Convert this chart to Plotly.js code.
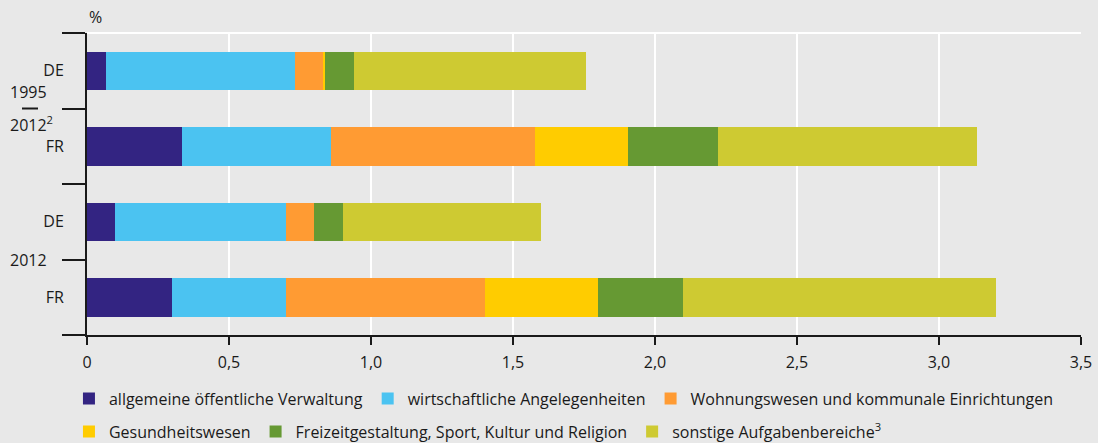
<!DOCTYPE html>
<html>
<head>
<meta charset="utf-8">
<script src="https://cdn.plot.ly/plotly-3.0.1.min.js"></script>
<style>html,body{margin:0;padding:0;background:#e8e8e8;}#chart{width:1098px;height:443px;}</style>
</head>
<body>
<div id="chart"></div>
<script>
// categories (top to bottom)
const categories = ["DE 1995–2012", "FR 1995–2012", "DE 2012", "FR 2012"];
const countryLabels = ["DE", "FR", "DE", "FR"];
const groupLabels = ["1995", "2012<sup>2</sup>", "2012"];

// series values (% of GDP)
const verwaltung = [0.067, 0.335, 0.10, 0.30];
const wirtschaft = [0.664, 0.524, 0.60, 0.40];
const wohnung    = [0.100, 0.718, 0.10, 0.70];
const gesundheit = [0.007, 0.327, 0.00, 0.40];
const freizeit   = [0.102, 0.317, 0.10, 0.30];
const sonstige   = [0.817, 0.912, 0.70, 1.10];

const seriesNames = [
  "allgemeine öffentliche Verwaltung",
  "wirtschaftliche Angelegenheiten",
  "Wohnungswesen und kommunale Einrichtungen",
  "Gesundheitswesen",
  "Freizeitgestaltung, Sport, Kultur und Religion",
  "sonstige Aufgabenbereiche<sup>3</sup>"
];
const seriesValues = [verwaltung, wirtschaft, wohnung, gesundheit, freizeit, sonstige];
const colors = ["#332482", "#4bc3f1", "#ff9b33", "#ffcc00", "#669933", "#ceca32"];

// x ticks
const xTickVals = [0, 0.5, 1, 1.5, 2, 2.5, 3, 3.5];
const xTickText = ["0", "0,5", "1,0", "1,5", "2,0", "2,5", "3,0", "3,5"];

const FONT = "Open Sans, Liberation Sans, Arial, sans-serif";
const FS = 16;
const TXT = "#1a1a1a";

const traces = seriesValues.map((vals, i) => ({
  type: "bar",
  orientation: "h",
  name: seriesNames[i],
  y: categories,
  x: vals,
  marker: {color: colors[i], line: {width: 0}},
  legend: i < 3 ? "legend" : "legend2",
  hoverinfo: "x+name"
}));

const layout = {
  width: 1098,
  height: 443,
  paper_bgcolor: "#e8e8e8",
  plot_bgcolor: "#e8e8e8",
  font: {family: FONT, size: FS, color: TXT},
  margin: {l: 87, r: 17, t: 33, b: 108, autoexpand: false},
  barmode: "stack",
  bargap: 0.49,
  xaxis: {
    range: [0, 3.5],
    tickvals: xTickVals,
    ticktext: xTickText,
    showgrid: true,
    gridcolor: "#ffffff",
    gridwidth: 1.5,
    zeroline: false,
    showline: true,
    linecolor: "#1a1a1a",
    linewidth: 2,
    ticks: "outside",
    ticklen: 8,
    tickwidth: 2,
    tickcolor: "#1a1a1a",
    ticklabelstandoff: 4,
    tickfont: {family: FONT, size: FS, color: TXT},
    fixedrange: true
  },
  yaxis: {
    type: "category",
    autorange: "reversed",
    tickvals: categories,
    ticktext: countryLabels,
    tickson: "boundaries",
    ticks: "outside",
    ticklen: 23,
    tickwidth: 2,
    tickcolor: "#1a1a1a",
    ticklabelstandoff: 18,
    showline: true,
    linecolor: "#1a1a1a",
    linewidth: 2,
    showgrid: false,
    zeroline: false,
    tickfont: {family: FONT, size: FS, color: TXT},
    fixedrange: true
  },
  showlegend: true,
  legend: {
    orientation: "h",
    xref: "container", yref: "container",
    x: 0.0628, xanchor: "left",
    y: 0.1, yanchor: "middle",
    bgcolor: "rgba(0,0,0,0)",
    font: {family: FONT, size: FS, color: TXT},
    traceorder: "normal"
  },
  legend2: {
    orientation: "h",
    xref: "container", yref: "container",
    x: 0.0628, xanchor: "left",
    y: 0.026, yanchor: "middle",
    bgcolor: "rgba(0,0,0,0)",
    font: {family: FONT, size: FS, color: TXT},
    traceorder: "normal"
  },
  shapes: [
    {type: "line", xref: "paper", yref: "paper", x0: 0, x1: 1, y0: 1, y1: 1,
     line: {color: "#ffffff", width: 2}, layer: "below"},
    {type: "line", xref: "paper", yref: "y", x0: -0.0654, x1: -0.0493, y0: 0.5, y1: 0.5,
     line: {color: "#1a1a1a", width: 2}}
  ],
  annotations: [
    {text: "%", xref: "paper", yref: "paper", x: 0, y: 1, xanchor: "left", yanchor: "bottom",
     yshift: 3, showarrow: false, font: {family: FONT, size: FS, color: TXT}},
    {text: groupLabels[0], xref: "paper", yref: "y", x: -0.0795, y: 0.5, xanchor: "left", yanchor: "bottom",
     yshift: 4, showarrow: false, font: {family: FONT, size: FS, color: TXT}},
    {text: groupLabels[1], xref: "paper", yref: "y", x: -0.0795, y: 0.5, xanchor: "left", yanchor: "top",
     yshift: -1, showarrow: false, font: {family: FONT, size: FS, color: TXT}},
    {text: groupLabels[2], xref: "paper", yref: "y", x: -0.0795, y: 2.5, xanchor: "left", yanchor: "middle",
     showarrow: false, font: {family: FONT, size: FS, color: TXT}}
  ]
};

Plotly.newPlot("chart", traces, layout, {displayModeBar: false, staticPlot: true});
</script>
</body>
</html>
